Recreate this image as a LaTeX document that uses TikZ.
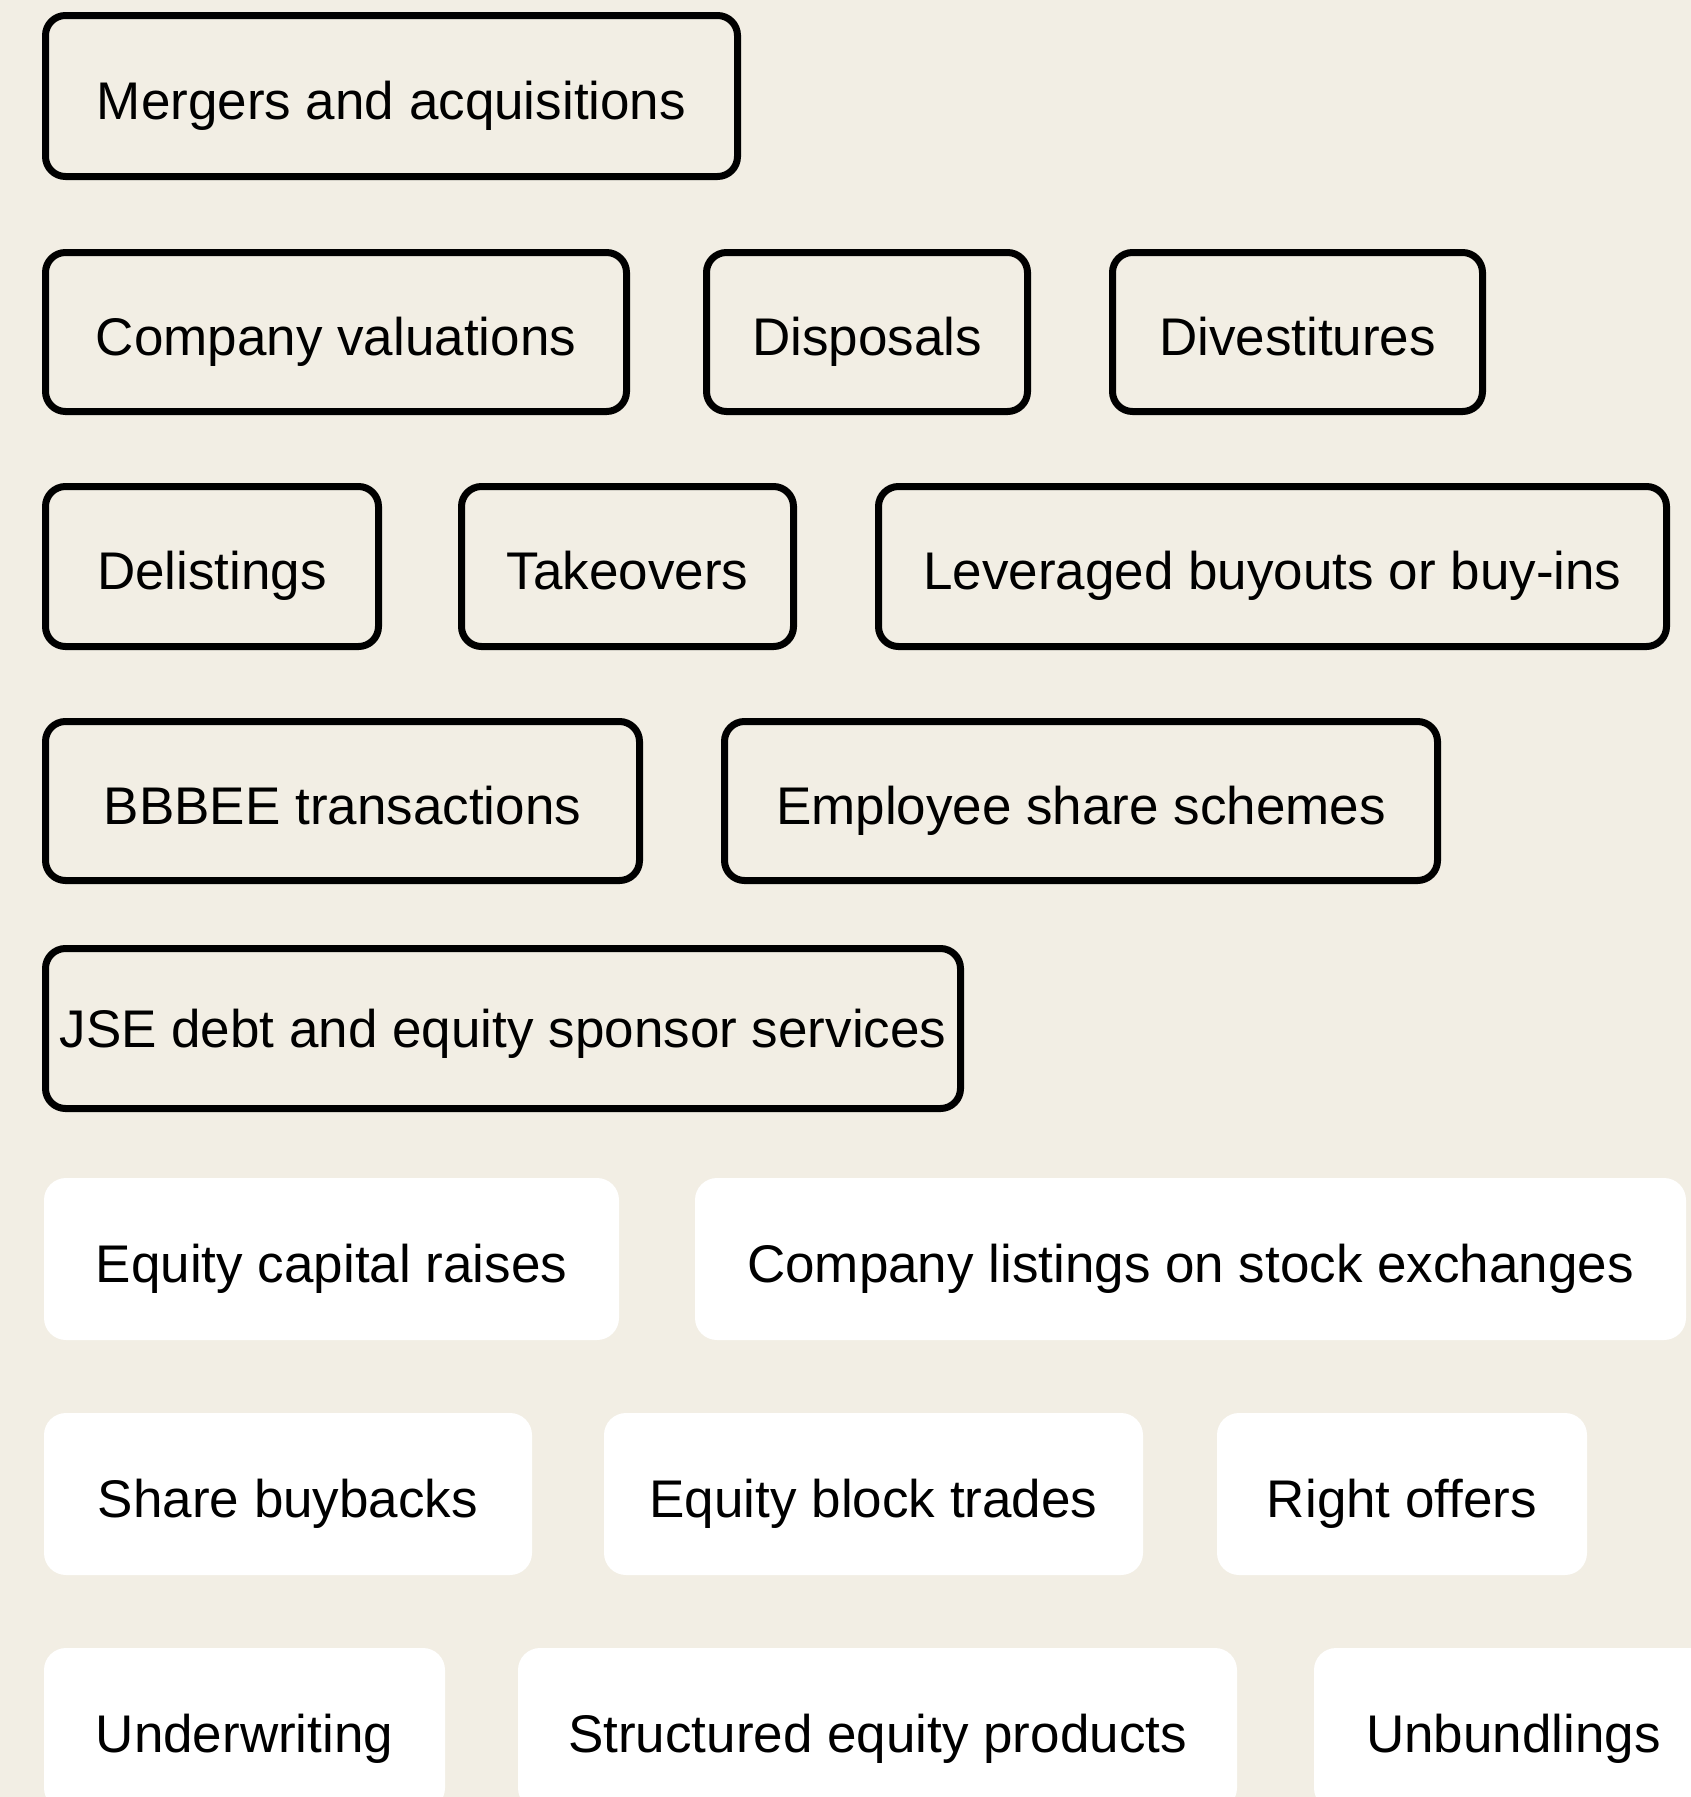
\documentclass[tikz,border=0pt]{standalone}
\usepackage{fontspec}
\setmainfont{Liberation Sans}
\definecolor{bg}{HTML}{F2EEE4}
\begin{document}
\begin{tikzpicture}[x=1pt,y=-1pt,
  lbl/.style={font=\fontsize{53}{60}\selectfont, inner sep=0pt, align=center, text height=46pt, text depth=0pt},
  obox/.style={lbl, draw=black, line width=7pt, rounded corners=20pt},
  wbox/.style={lbl, fill=white, rounded corners=22pt}]
\fill[bg] (0,0) rectangle (1691,1797);
\useasboundingbox (0,0) rectangle (1691,1797);
% outlined boxes (outer extents minus stroke)
\node[obox, minimum width=692pt, minimum height=161pt] (ma) at (391.5,96) {Mergers and acquisitions};
\node[obox, minimum width=581pt, minimum height=159pt] (cv) at (336,332) {Company valuations};
\node[obox, minimum width=321pt, minimum height=159pt] (dp) at (867,332) {Disposals};
\node[obox, minimum width=370pt, minimum height=159pt] (dv) at (1297.5,332) {Divestitures};
\node[obox, minimum width=333pt, minimum height=160pt] (dl) at (212,566.5) {Delistings};
\node[obox, minimum width=332pt, minimum height=160pt] (tk) at (627.5,566.5) {Takeovers};
\node[obox, minimum width=788pt, minimum height=160pt] (lb) at (1272.5,566.5) {Leveraged buyouts or buy-ins};
\node[obox, minimum width=594pt, minimum height=159pt] (bb) at (342.5,801) {BBBEE transactions};
\node[obox, minimum width=713pt, minimum height=159pt] (es) at (1081,801) {Employee share schemes};
\node[obox, minimum width=915pt, minimum height=160pt, text height=38pt] (jse) at (503,1028.5) {JSE debt and equity sponsor services};
% white boxes
\node[wbox, minimum width=575pt, minimum height=162pt] (ecr) at (331.5,1259) {Equity capital raises};
\node[wbox, minimum width=991pt, minimum height=162pt] (cl) at (1190.5,1259) {Company listings on stock exchanges};
\node[wbox, minimum width=488pt, minimum height=162pt] (sb) at (288,1494) {Share buybacks};
\node[wbox, minimum width=539pt, minimum height=162pt] (ebt) at (873.5,1494) {Equity block trades};
\node[wbox, minimum width=370pt, minimum height=162pt] (ro) at (1402,1494) {Right offers};
\node[wbox, minimum width=401pt, minimum height=162pt] (uw) at (244.5,1729) {Underwriting};
\node[wbox, minimum width=719pt, minimum height=162pt] (sep) at (877.5,1729) {Structured equity products};
\node[wbox, minimum width=399pt, minimum height=162pt] (ub) at (1513.5,1729) {Unbundlings};
\end{tikzpicture}
\end{document}
